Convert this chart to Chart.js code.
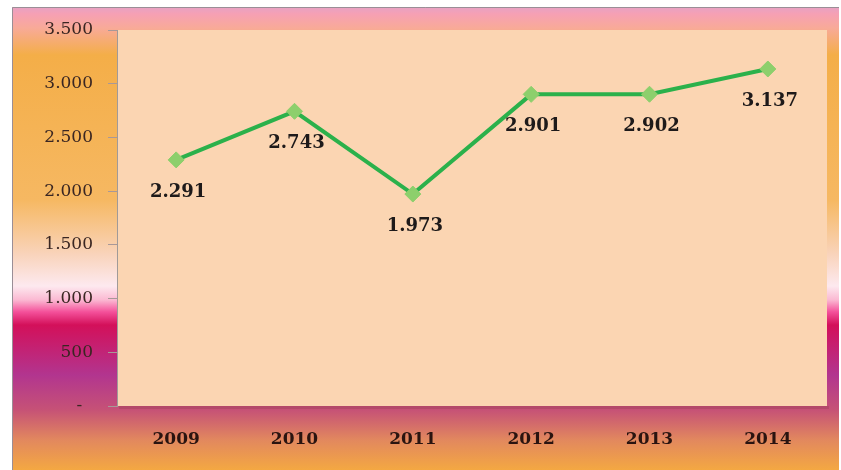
<!DOCTYPE html>
<html>
<head>
<meta charset="utf-8">
<script src="https://cdn.jsdelivr.net/npm/chart.js@4/dist/chart.umd.min.js"></script>
<style>
  html, body { margin:0; padding:0; background:#fff; }
  #wrap { width:841px; height:470px; position:relative; }
</style>
</head>
<body>
<div id="wrap"><canvas id="c" width="841" height="470"></canvas></div>
<script>
const years  = ["2009","2010","2011","2012","2013","2014"];
const values = [2291, 2743, 1973, 2901, 2902, 3137];
const yMax = 3500;
const yStep = 500;

// dot as thousands separator, zero shown as "-" (accounting style)
const fmt = n => n === 0 ? "-  " : String(n).replace(/\B(?=(\d{3})+(?!\d))/g, ".");
const SERIF = "'DejaVu Serif', 'Liberation Serif', serif";

/* ====== Background: outer gradient frame + peach plot area ====== */
const bgPlugin = {
  id: "bg",
  beforeDraw(chart) {
    const ctx = chart.ctx, a = chart.chartArea;
    const x0 = 12, y0 = 7, x1 = 839, y1 = 470;
    const g = ctx.createLinearGradient(0, y0, 0, y1);
    const stop = (y, c) => g.addColorStop((y - y0) / (y1 - y0), c);
    stop(7,   "#e6a2c4");
    stop(14,  "#f6a0b4");
    stop(28,  "#f8aa98");
    stop(55,  "#f4ae48");
    stop(200, "#f6b862");
    stop(255, "#f9d4bc");
    stop(286, "#fde9ef");
    stop(300, "#fbb8d2");
    stop(312, "#f4509a");
    stop(325, "#d3105a");
    stop(375, "#b2358f");
    stop(410, "#c65276");
    stop(440, "#e2885e");
    stop(470, "#f4a842");
    ctx.save();
    ctx.fillStyle = g;
    ctx.fillRect(x0, y0, x1 - x0, y1 - y0);
    ctx.strokeStyle = "#9a8e96";
    ctx.lineWidth = 1;
    ctx.beginPath();
    ctx.moveTo(x0 + 0.5, y1); ctx.lineTo(x0 + 0.5, y0 + 0.5); ctx.lineTo(x1, y0 + 0.5);
    ctx.stroke();
    // plot area with a soft shadow at the bottom
    ctx.fillStyle = "rgba(150,60,80,0.35)";
    ctx.fillRect(a.left + 2, a.bottom, a.right - a.left, 3);
    ctx.fillStyle = "#fbd5b2";
    ctx.fillRect(a.left, a.top, a.right - a.left, a.bottom - a.top);
    ctx.restore();
  }
};

/* ====== Value labels under each point ====== */
const labelPlugin = {
  id: "valueLabels",
  afterDatasetsDraw(chart) {
    const ctx = chart.ctx;
    const meta = chart.getDatasetMeta(0);
    ctx.save();
    ctx.font = "bold 18px " + SERIF;
    ctx.fillStyle = "#1e1a1a";
    ctx.textAlign = "center";
    ctx.textBaseline = "middle";
    meta.data.forEach((pt, i) => {
      ctx.fillText(fmt(values[i]), pt.x + 2, pt.y + 32);
    });
    ctx.restore();
  }
};

new Chart(document.getElementById("c"), {
  type: "line",
  data: {
    labels: years,
    datasets: [{
      data: values,
      borderColor: "#2bb14b",
      borderWidth: 4,
      pointStyle: "rectRot",
      pointRadius: 8,
      pointHoverRadius: 8,
      pointBackgroundColor: "#8dcf6c",
      pointBorderColor: "#8dcf6c",
      pointBorderWidth: 1,
      tension: 0
    }]
  },
  options: {
    responsive: false,
    animation: false,
    devicePixelRatio: 1,
    layout: { padding: { top: 30, right: 14, bottom: 0, left: 0 } },
    plugins: { legend: { display: false }, tooltip: { enabled: false } },
    scales: {
      x: {
        offset: true,
        grid: { display: false, drawTicks: false },
        border: { display: false },
        ticks: {
          color: "#2a1410",
          padding: 23,
          font: { family: SERIF, size: 17, weight: "bold" }
        },
        afterFit: s => { s.height = 64; }
      },
      y: {
        min: 0,
        max: yMax,
        grid: { drawOnChartArea: false, tickLength: 9, color: "#a89898" },
        border: { display: true, color: "#a09a98", width: 1 },
        ticks: {
          stepSize: yStep,
          color: "#3a2622",
          padding: 15,
          font: { family: SERIF, size: 17 },
          callback: v => fmt(v)
        },
        afterFit: s => { s.width = 117; }
      }
    }
  },
  plugins: [bgPlugin, labelPlugin]
});
</script>
</body>
</html>
